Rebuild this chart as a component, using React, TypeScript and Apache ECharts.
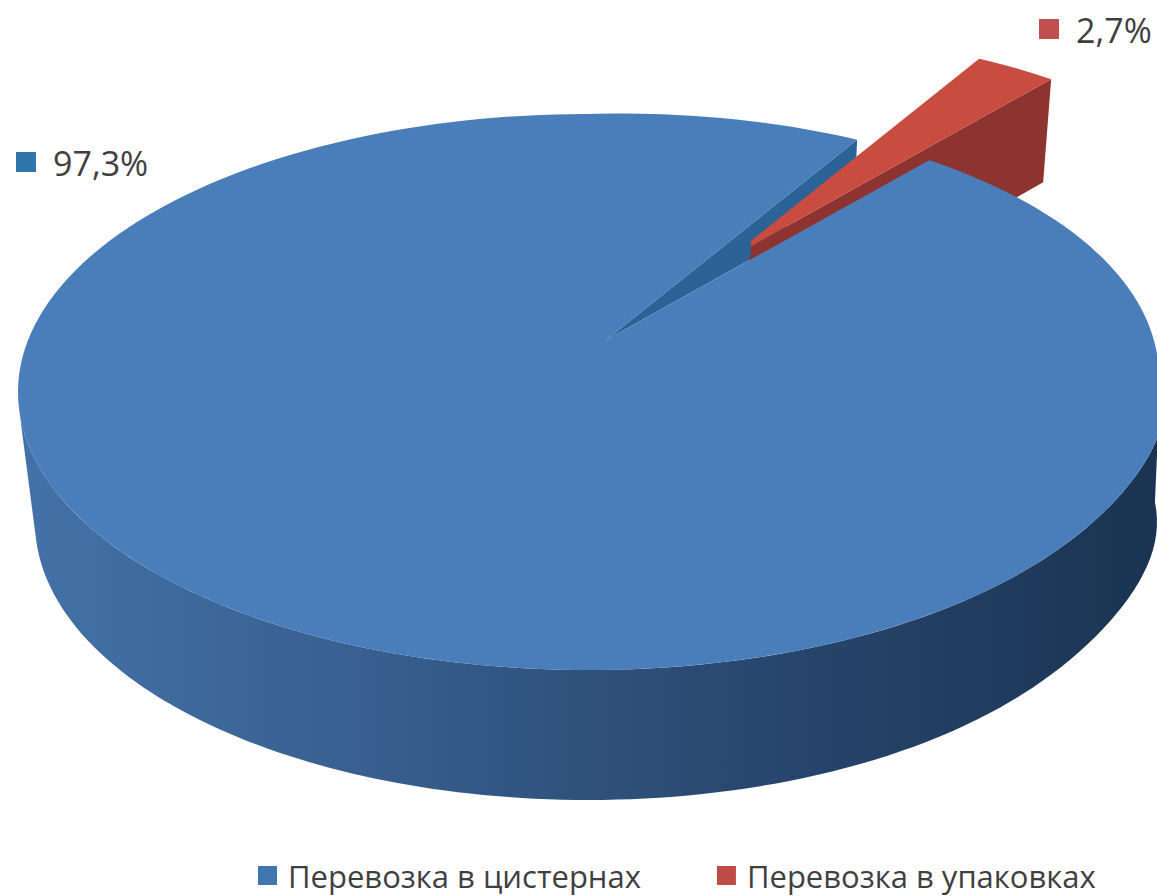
import React, { useEffect, useRef } from "react";
import * as echarts from "echarts";

const categories = ["Перевозка в цистернах", "Перевозка в упаковках"];
const values = [97.3, 2.7];
const valueLabels = ["97,3%", "2,7%"];

const FONT = "'Open Sans', sans-serif";
const TEXT = "#3f3f3f";
// shoulder: outward push of the back-right quadrant; bulge: widening of the right end (both from the picture's perspective)
const TOP = { cx: 588, cy: 392, rx: 570, ry: 278, shoulder: 0.028, bulge: 9, fade: true };
const BOTTOM = { cx: 588, cy: 522, rx: 553, ry: 278, shoulder: 0, bulge: 16, fade: false };
const APEX: [number, number] = [606, 340];
const EXPLODE: [number, number] = [122, -81];
const FIRST_ANGLE = 63.36 - 360 * (values[1] / 100);

const rad = (d: number) => (d * Math.PI) / 180;
const warp = (d: number) => d + 4.58 * Math.sin(2 * rad(d + 32));
const rim = (e: typeof TOP, d: number, off: [number, number] = [0, 0]): [number, number] => {
  const t = rad(warp(d));
  const c = Math.cos(t);
  const s = Math.sin(t);
  const k = 1 + (c > 0 && s > 0 ? e.shoulder * Math.sin(2 * t) : 0);
  const fade = e.fade ? Math.min(1, Math.max(0, 0.5 - s * 4)) : 1;
  const side = c > 0 ? e.bulge * Math.pow(c, 16) * fade : 0;
  return [e.cx + e.rx * c * k + side + off[0], e.cy - e.ry * s * k + off[1]];
};
const lerp = (a: number[], b: number[], f: number): [number, number] => [a[0] + (b[0] - a[0]) * f, a[1] + (b[1] - a[1]) * f];
const add = (a: number[], x: number, y: number): [number, number] => [a[0] + x, a[1] + y];

function arcPoints(e: typeof TOP, from: number, to: number) {
  const pts: [number, number][] = [];
  const n = Math.max(2, Math.ceil(Math.abs(to - from) / 1.5));
  for (let i = 0; i <= n; i++) pts.push(rim(e, from + ((to - from) * i) / n));
  return pts;
}

function labelEl(text: string, x: number, y: number, color: string, z2: number) {
  return [
    { type: "rect", shape: { x, y: y - 11, width: 20, height: 20 }, style: { fill: color }, z2 },
    {
      type: "text",
      x: x + 37,
      y,
      style: { text, fill: TEXT, font: `34px ${FONT}`, textVerticalAlign: "middle", textAlign: "left", verticalAlign: "middle" },
      z2,
    },
  ];
}

function renderBlue() {
  const span = 360 * (values[0] / 100);
  const start = FIRST_ANGLE;
  const end = start - span;
  const S = rim(TOP, end);
  const E = rim(TOP, start);
  return {
    type: "group",
    children: [
      {
        type: "polygon",
        shape: { points: [...arcPoints(TOP, 180, 360), ...arcPoints(BOTTOM, 360, 180)] },
        style: {
          fill: new echarts.graphic.LinearGradient(0, 0, 1, 0, [
            { offset: 0, color: "#4372a8" },
            { offset: 0.3, color: "#385f8f" },
            { offset: 0.6, color: "#2a4a72" },
            { offset: 1, color: "#1a3352" },
          ]),
        },
        z2: 1,
      },
      {
        type: "polygon",
        shape: { points: [APEX, S, add(S, -1, 21), lerp(APEX, E, 0.45)] },
        style: { fill: "#2c6396" },
        z2: 2,
      },
      {
        type: "polygon",
        shape: { points: [APEX, ...arcPoints(TOP, start, end)] },
        style: { fill: "#4a7ebb" },
        z2: 6,
      },
      ...labelEl(valueLabels[0], 16, 163, "#2f75a8", 7),
    ],
  };
}

function renderRed() {
  const span = 360 * (values[1] / 100);
  const end = FIRST_ANGLE;
  const start = end + span;
  const R = add(APEX, EXPLODE[0], EXPLODE[1]);
  const A = rim(TOP, start, EXPLODE);
  const B = rim(TOP, end, EXPLODE);
  const tipA = lerp(R, A, 0.093);
  const tipB = lerp(R, B, 0.071);
  return {
    type: "group",
    children: [
      {
        type: "polygon",
        shape: { points: [tipB, B, add(B, -8, 103), add(R, 0, 103), add(tipB, 0, 6)] },
        style: { fill: "#8e3430" },
        z2: 3,
      },
      {
        type: "polygon",
        shape: { points: [tipA, ...arcPoints(TOP, start, end).map((p) => add(p, EXPLODE[0], EXPLODE[1])), tipB] },
        style: { fill: "#c94c40" },
        z2: 4,
      },
      ...labelEl(valueLabels[1], 1039, 30, "#c0504d", 7),
    ],
  };
}

export default function App() {
  const ref = useRef<HTMLDivElement>(null);
  useEffect(() => {
    const chart = echarts.init(ref.current!, undefined, { renderer: "svg" });
    chart.setOption({
      animation: false,
      backgroundColor: "#ffffff",
      legend: {
        data: categories,
        left: 253,
        top: 855,
        icon: "rect",
        itemWidth: 19,
        itemHeight: 19,
        itemGap: 76,
        textStyle: { fontFamily: FONT, fontSize: 31, color: TEXT, padding: [0, 0, 0, 6] },
      },
      series: [
        {
          type: "custom",
          name: categories[0],
          coordinateSystem: "none",
          itemStyle: { color: "#3f76b2" },
          data: [values[0]],
          renderItem: renderBlue,
        },
        {
          type: "custom",
          name: categories[1],
          coordinateSystem: "none",
          itemStyle: { color: "#be4b48" },
          data: [values[1]],
          renderItem: renderRed,
        },
      ],
    });
    return () => chart.dispose();
  }, []);
  return <div ref={ref} style={{ position: "absolute", left: 0, top: 0, width: 1157, height: 896 }} />;
}
